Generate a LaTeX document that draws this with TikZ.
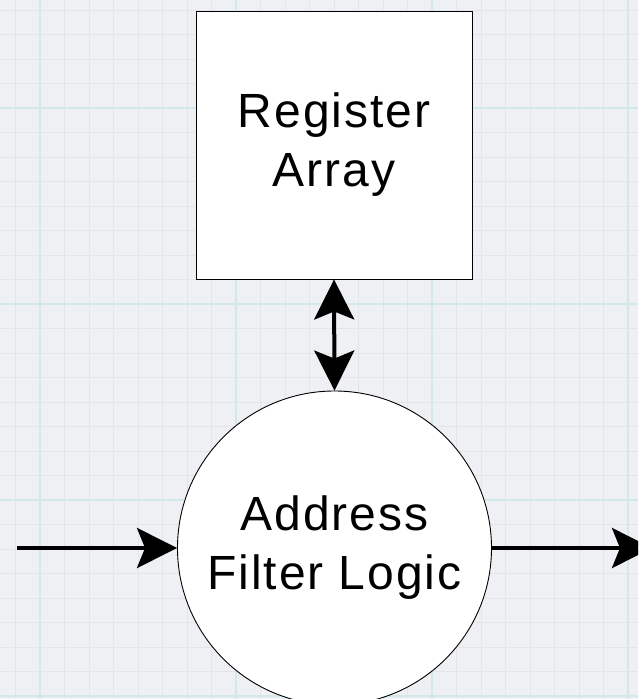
\documentclass[tikz,border=0pt]{standalone}
\usepackage{fontspec}
\setmainfont{Liberation Sans}
\usetikzlibrary{arrows.meta,positioning,shapes.geometric}

\definecolor{paper}{HTML}{EFF0F3}
\definecolor{gridminor}{HTML}{E3E5EB}
\definecolor{gridmajor}{HTML}{D3E8E9}

\begin{document}
\begin{tikzpicture}[
  x=1pt, y=-1pt,
  font=\fontsize{48}{59}\selectfont\addfontfeature{LetterSpace=4},
  >={Stealth[length=40pt, width=40pt, inset=8pt]},
  minor/.style={gridminor, line width=0.7pt},
  major/.style={gridmajor, line width=1.6pt},
  blk/.style={rectangle, draw, fill=white, line width=0.9pt,
              minimum width=276pt, minimum height=268pt,
              inner sep=0pt, align=center},
  proc/.style={circle, draw, fill=white, line width=0.9pt,
               minimum size=314pt, inner sep=0pt, align=center},
  arr/.style={->, line width=4pt},
  dblarr/.style={<->, line width=4pt}
]
  \useasboundingbox (0,0) rectangle (638,699);
  \clip (0,0) rectangle (638,699);
  % graph paper underneath
  \fill[paper] (0,0) rectangle (638,699);
  \foreach \gx in {15.5,40,...,640} \draw[minor] (\gx,0) -- (\gx,699);
  \foreach \gy in {10,34.5,...,700} \draw[minor] (0,\gy) -- (638,\gy);
  \foreach \gx in {40,236,432,628} \draw[major] (\gx,0) -- (\gx,699);
  \foreach \gy in {108,304,500,696} \draw[major] (0,\gy) -- (638,\gy);

  \node[blk]  (regs) at (334,145)   {Register\\Array};
  \node[proc] (filt) at (334.5,548) {Address\\Filter Logic};
  \coordinate (in)  at (17,548);
  \coordinate (out) at (652,548);

  \draw[dblarr] (regs.south) -- (filt.north);
  \draw[arr] (in) -- (filt.west);
  \draw[arr] (filt.east) -- (out);
\end{tikzpicture}
\end{document}
